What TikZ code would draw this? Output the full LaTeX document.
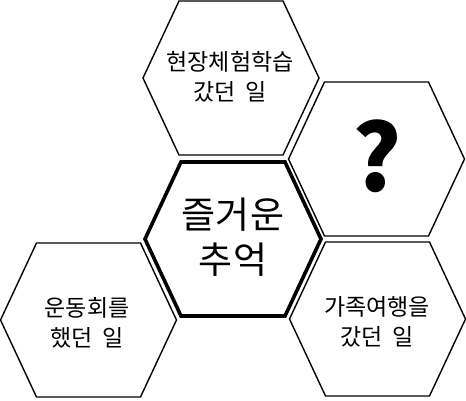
\documentclass[tikz,border=0pt]{standalone}
\usepackage{fontspec}
\setmainfont{Noto Sans CJK KR}
\definecolor{hexLine}{HTML}{000000}

\tikzset{
  hexcell/.pic={
    \draw[pic actions] (-88,0) -- (-52,-77) -- (52,-77) -- (88,0) -- (52,77) -- (-52,77) -- cycle;
  },
  hextext/.style={align=center, inner sep=0pt, font=\fontsize{23}{30}\selectfont},
}
\newcommand\wordgap{\hspace{0.45em}}

\begin{document}
\begin{tikzpicture}[x=1pt, y=-1pt, line join=miter]
  \useasboundingbox (0,0) rectangle (466,400);
  % hexagon frames
  \pic[draw=hexLine, line width=1.4pt] at (231,78) {hexcell};
  \pic[draw=hexLine, line width=1.4pt] at (376.5,159) {hexcell};
  \pic[draw=hexLine, line width=3.6pt] at (233,239) {hexcell};
  \pic[draw=hexLine, line width=1.4pt] at (88.5,320) {hexcell};
  \pic[draw=hexLine, line width=1.4pt] at (377.5,319) {hexcell};
  % texts
  \node[hextext] (trip) at (230,77) {현장체험학습\\갔던\wordgap 일};
  \node[inner sep=0pt, font=\bfseries\fontsize{92}{92}\selectfont] (unknown) at (377,156) {?};
  \node[hextext, font=\fontsize{37}{45}\selectfont] (memory) at (233,237) {즐거운\\추억};
  \node[hextext] (sports) at (87,323) {운동회를\\했던\wordgap 일};
  \node[hextext] (family) at (377,322) {가족여행을\\갔던\wordgap 일};
\end{tikzpicture}
\end{document}
